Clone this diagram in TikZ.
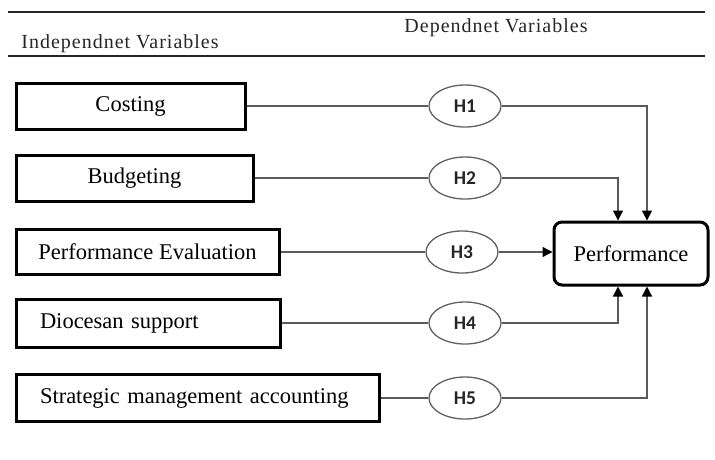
\documentclass[tikz,border=0pt]{standalone}
\usepackage{fontspec}
\setmainfont{Liberation Serif}
\newfontfamily\hfont{Carlito}
\newfontfamily\headfont[LetterSpace=5]{Liberation Serif}
\usetikzlibrary{arrows.meta,shapes.geometric}
\definecolor{lineg}{HTML}{5A5A5A}
\definecolor{ellg}{HTML}{606060}
\tikzset{
  varbox/.style={draw=black, line width=3pt, inner sep=0pt, minimum height=46pt,
    font=\fontsize{22.5}{26}\selectfont},
  leftbox/.style={varbox, align=left, inner xsep=24pt},
  hyp/.style={ellipse, draw=ellg, line width=1.3pt, minimum width=72pt, minimum height=42pt,
    inner sep=0pt, font=\hfont\bfseries\fontsize{19.5}{22}\selectfont, text=black!85},
  conn/.style={draw=lineg, line width=1.3pt},
  arr/.style={conn, -{Triangle[length=10pt,width=10pt,color=black]}},
  rule/.style={draw=black!85, line width=2pt},
  head/.style={font=\headfont\fontsize{20}{24}\selectfont, text=black!85, inner sep=0pt}
}
\begin{document}
\begin{tikzpicture}[x=1pt,y=-1pt]
\useasboundingbox (0,0) rectangle (715,459);
% header rules
\coordinate (t1) at (8,12);
\coordinate (t2) at (705,12);
\coordinate (b1) at (8,56);
\coordinate (b2) at (705,56);
\draw[rule] (t1) -- (t2);
\draw[rule, line width=2.5pt] (b1) -- (b2);
\node[head] (indep) at (120,44) {Independnet Variables};
\node[head] (dep) at (496,28) {Dependnet Variables};
% independent variable boxes
\node[varbox, minimum width=229pt] (cost) at (130.5,106) {Costing};
\node[varbox, minimum width=237pt] (budg) at (134.5,178) {Budgeting};
\node[varbox, minimum width=263pt, minimum height=45pt] (peval) at (147.5,252) {Performance Evaluation};
\node[leftbox, text width=216pt, minimum height=48pt] (dioc) at (148,323) {Diocesan support};
\node[leftbox, text width=315pt, minimum height=47pt] (strat) at (197.5,398) {Strategic management accounting};
% hypotheses
\node[hyp] (h1) at (465,106) {H1};
\node[hyp] (h2) at (465,178) {H2};
\node[hyp] (h3) at (462,252) {H3};
\node[hyp] (h4) at (465,323) {H4};
\node[hyp] (h5) at (465,398) {H5};
% dependent variable
\node[draw=black, line width=3pt, rounded corners=8pt, minimum width=154pt, minimum height=63pt,
  inner sep=0pt, font=\fontsize{22.5}{26}\selectfont] (perf) at (631,253.5) {Performance};
% connectors
\draw[conn] (cost.east) -- (h1.west);
\draw[conn] (budg.east) -- (h2.west);
\draw[conn] (peval.east) -- (h3.west);
\draw[conn] (dioc.east) -- (h4.west);
\draw[conn] (strat.east) -- (h5.west);
\draw[arr] (h1.east) -| ([xshift=16pt]perf.north);
\draw[arr] (h2.east) -| ([xshift=-13pt]perf.north);
\draw[arr] (h3.east) -- (perf.west |- h3.east);
\draw[arr] (h4.east) -| ([xshift=-13pt]perf.south);
\draw[arr] (h5.east) -| ([xshift=16pt]perf.south);
\end{tikzpicture}
\end{document}
